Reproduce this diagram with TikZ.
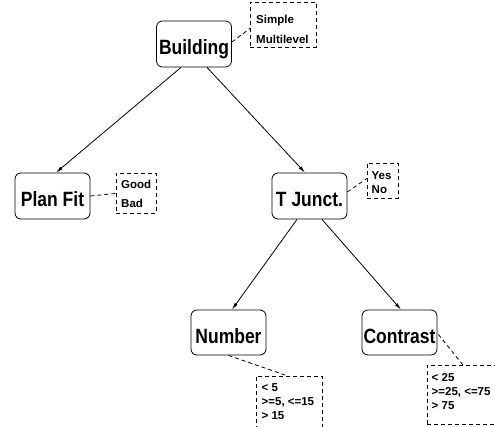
\documentclass[tikz,border=0pt]{standalone}
\usepackage{fontspec}
\setmainfont{Liberation Sans}
\usetikzlibrary{arrows.meta,calc}
\newcommand{\tall}[1]{\scalebox{1}[1.18]{#1}}
\begin{document}
\begin{tikzpicture}[x=1pt,y=-1pt,
  attr/.style={draw,line width=0.8pt,rounded corners=6pt,minimum width=75pt,
    minimum height=46pt,inner sep=0pt,text height=21pt,text depth=0pt,
    font=\fontsize{17.5}{20}\selectfont\bfseries},
  valbox/.style={draw,line width=0.8pt,dash pattern=on 4pt off 3pt,inner sep=0pt,anchor=north west},
  val/.style={anchor=base west,inner sep=0pt,font=\fontsize{11.5}{13}\selectfont\bfseries},
  link/.style={line width=0.8pt,-{Latex[length=7pt,width=3.5pt]}},
  tie/.style={line width=0.8pt,dash pattern=on 4pt off 3pt}]
\useasboundingbox (0,0) rectangle (495,426);

% decision nodes
\node[attr] (building) at (194,44) {\tall{Building}};
\node[attr] (planfit) at (52.5,196) {\tall{Plan Fit}};
\node[attr] (tjunct) at (309.5,196) {\tall{T Junct.}};
\node[attr,minimum height=45pt] (number) at (228.5,332.5) {\tall{Number}};
\node[attr,minimum height=45pt] (contrast) at (399.5,332.5) {\tall{Contrast}};

% value lists
\node[valbox,minimum width=66pt,minimum height=45pt] (bvals) at (250,2) {};
\node[val] (b1) at (256,23) {Simple};
\node[val] (b2) at (256,43) {Multilevel};

\node[valbox,minimum width=40pt,minimum height=40pt] (pvals) at (116,173) {};
\node[val] (p1) at (121,188) {Good};
\node[val] (p2) at (121,207) {Bad};

\node[valbox,minimum width=31pt,minimum height=35pt] (tvals) at (367,163) {};
\node[val] (t1) at (371.5,179) {Yes};
\node[val] (t2) at (371.5,193) {No};

\node[valbox,minimum width=66pt,minimum height=70pt] (nvals) at (256,376) {};
\node[val] (n1) at (261.5,391) {< 5};
\node[val] (n2) at (261.5,405) {>=5, <=15};
\node[val] (n3) at (261.5,419) {> 15};

\node[valbox,minimum width=90pt,minimum height=59pt] (cvals) at (427,365) {};
\node[val] (c1) at (431.5,381) {< 25};
\node[val] (c2) at (431.5,395) {>=25, <=75};
\node[val] (c3) at (431.5,409) {> 75};

% tree edges
\draw[link] ($(building.south)+(-13,0)$) -- ($(planfit.north)+(3.5,0)$);
\draw[link] ($(building.south)+(13,0)$) -- ($(tjunct.north)+(-4.5,0)$);
\draw[link] ($(tjunct.south)+(-12.5,0)$) -- ($(number.north)+(3.5,0)$);
\draw[link] ($(tjunct.south)+(12.5,0)$) -- ($(contrast.north)+(1.5,0)$);

% dashed ties to the value lists
\draw[tie] ($(building.east)+(0,-2)$) -- ($(bvals.west)+(0,3.5)$);
\draw[tie] (planfit.east) -- (pvals.west);
\draw[tie] ($(tjunct.east)+(0,-4)$) -- ($(tvals.west)+(0,-2.5)$);
\draw[tie] (number.south) -- ($(nvals.north west)+(32,0)$);
\draw[tie] ($(contrast.east)+(1,2)$) -- ($(cvals.north west)+(36,0)$);
\end{tikzpicture}
\end{document}
